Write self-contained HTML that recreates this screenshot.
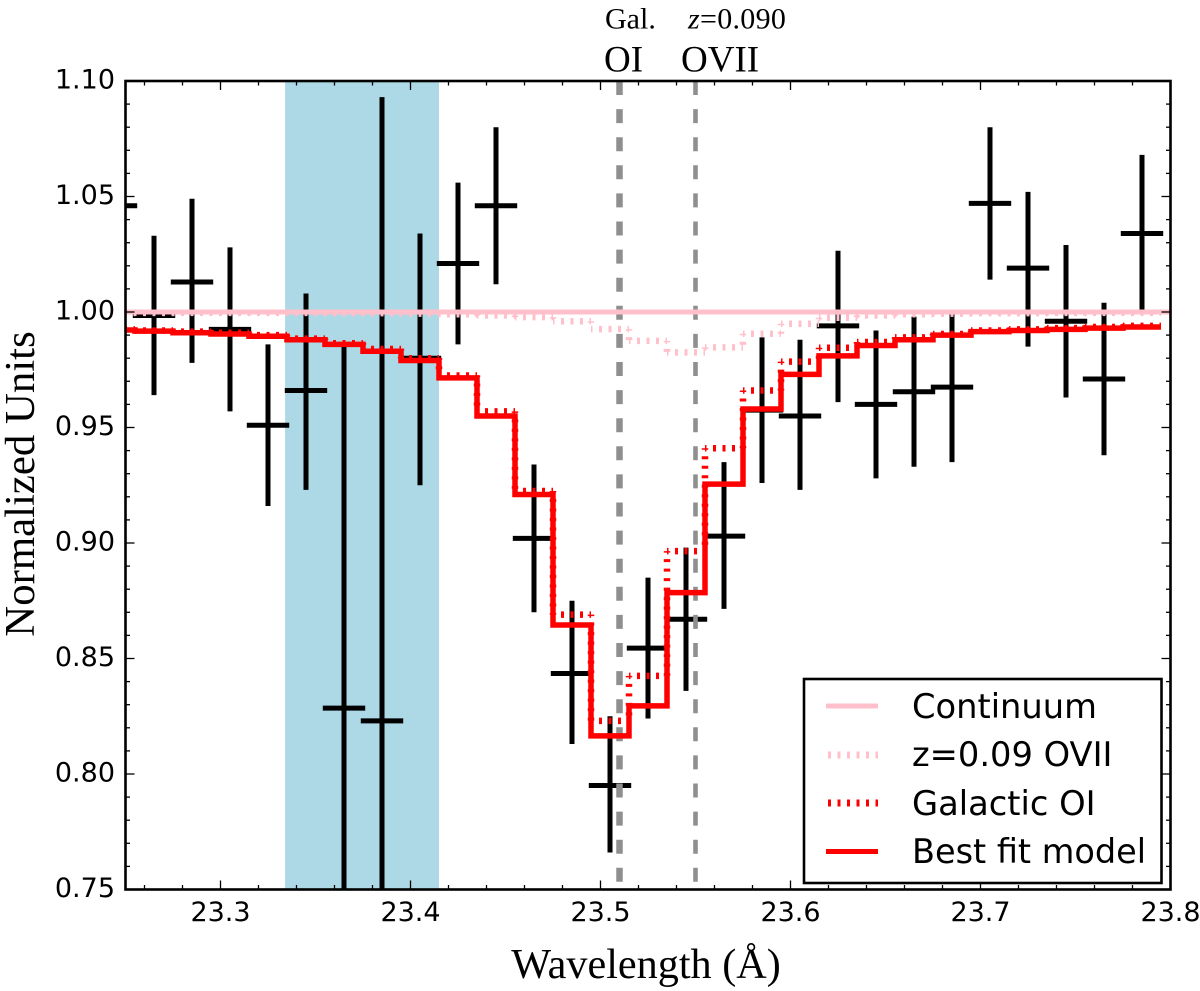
<!DOCTYPE html>
<html lang="en">
<head>
<meta charset="utf-8">
<title>Normalized spectrum near 23.5 Å</title>
<style>
html,body{margin:0;padding:0;background:#fff;width:1200px;height:991px;overflow:hidden}
svg{display:block}
.dv{font-family:"DejaVu Sans","Liberation Sans",sans-serif;fill:#000}
.sf{font-family:"Liberation Serif",serif;fill:#000}
</style>
</head>
<body>
<svg id="chart" xmlns="http://www.w3.org/2000/svg" width="1200" height="991" viewBox="0 0 1200 991">
  <defs>
    <clipPath id="plot-clip"><rect x="125.5" y="81" width="1045" height="808.5"></rect></clipPath>
  </defs>
  <rect x="0" y="0" width="1200" height="991" fill="#fff"></rect>
  <g id="plot-area" clip-path="url(#plot-clip)"></g>
  <g id="ticks"></g>
  <rect x="125.5" y="81" width="1045" height="808.5" fill="none" stroke="#000" stroke-width="2.6"></rect>
  <g id="tick-labels"></g>
  <text class="sf" x="646" y="978" font-size="42.2" text-anchor="middle">Wavelength (Å)</text>
  <text class="sf" transform="translate(34,484) rotate(-90)" font-size="42.8" text-anchor="middle">Normalized Units</text>
  <text class="sf" x="605" y="28.5" font-size="30">Gal.</text>
  <text class="sf" x="688" y="28.5" font-size="30" letter-spacing="0.3"><tspan font-style="italic">z</tspan>=0.090</text>
  <text class="sf" x="604" y="71.7" font-size="37">OI</text>
  <text class="sf" x="681" y="71.7" font-size="37">OVII</text>
  <g>
    <rect x="804" y="679" width="357.5" height="204" fill="#fff" stroke="#000" stroke-width="2.6"></rect>
    <line x1="826" x2="878" y1="706" y2="706" stroke="#ffc0cb" stroke-width="5"></line>
    <line x1="828" x2="878" y1="755" y2="755" stroke="#ffc0cb" stroke-width="7" stroke-dasharray="3 6.5"></line>
    <line x1="828" x2="878" y1="803" y2="803" stroke="#f00" stroke-width="7" stroke-dasharray="3 6.5"></line>
    <line x1="826" x2="878" y1="851.5" y2="851.5" stroke="#f00" stroke-width="5"></line>
    <text class="dv" x="912" y="718" font-size="33.7">Continuum</text>
    <text class="dv" x="912" y="766" font-size="33.7">z=0.09 OVII</text>
    <text class="dv" x="912" y="815" font-size="33.7">Galactic OI</text>
    <text class="dv" x="912" y="863" font-size="33.5">Best fit model</text>
  </g>
</svg>
<script>
// Bin centres (Å)
var binCenters = [23.245,23.265,23.285,23.305,23.325,23.345,23.365,23.385,23.405,23.425,23.445,23.465,23.485,23.505,23.525,23.545,23.565,23.585,23.605,23.625,23.645,23.665,23.685,23.705,23.725,23.745,23.765,23.785];
// Observed flux and error bounds
var fluxValues = [1.046,0.9985,1.013,0.9925,0.951,0.966,0.8285,0.823,0.98,1.021,1.046,0.902,0.8435,0.795,0.8545,0.867,0.903,0.9575,0.955,0.994,0.96,0.9655,0.9675,1.047,1.019,0.996,0.971,1.034];
var errLower = [1.011,0.964,0.978,0.957,0.916,0.923,0.67,0.55,0.925,0.986,1.012,0.87,0.813,0.766,0.824,0.836,0.8715,0.926,0.923,0.961,0.928,0.933,0.935,1.014,0.985,0.963,0.938,1.0];
var errUpper = [1.081,1.033,1.049,1.028,0.986,1.008,0.986,1.093,1.034,1.056,1.08,0.934,0.875,0.825,0.885,0.898,0.935,0.989,0.988,1.0265,0.992,0.998,0.999,1.08,1.052,1.029,1.004,1.068];
// Model curves per bin
var bestFitValues = [0.9922,0.9917,0.991,0.9905,0.9895,0.988,0.986,0.983,0.979,0.9715,0.955,0.921,0.8645,0.8165,0.8295,0.8785,0.9255,0.958,0.973,0.981,0.9855,0.988,0.99,0.9915,0.992,0.9925,0.993,0.9935];
var galacticOiValues = [0.9925,0.992,0.9915,0.991,0.99,0.9885,0.9865,0.984,0.98,0.9725,0.957,0.9225,0.869,0.823,0.8425,0.8965,0.941,0.966,0.9785,0.9845,0.987,0.989,0.9905,0.992,0.9925,0.993,0.9935,0.994];
var oviiValues = [0.9996,0.9996,0.9996,0.9996,0.9996,0.9996,0.9995,0.9995,0.9993,0.999,0.9985,0.9978,0.996,0.9926,0.9875,0.9825,0.9847,0.9906,0.9949,0.9975,0.9985,0.999,0.9993,0.9995,0.9995,0.9996,0.9996,0.9996];
var continuumLevel = [1.0];
var binWidth = [0.02];
// Shaded region and reference lines
var shadedRange = [23.334,23.415];
var referenceLines = [23.51,23.55];
// Ticks
var xMajorTicks = [23.3,23.4,23.5,23.6,23.7,23.8];
var xTickLabels = ['23.3','23.4','23.5','23.6','23.7','23.8'];
var yMajorTicks = [1.10,1.05,1.00,0.95,0.90,0.85,0.80,0.75];
var yTickLabels = ['1.10','1.05','1.00','0.95','0.90','0.85','0.80','0.75'];
var xMinorStep = [0.02];
var yMinorStep = [0.01];

var X0 = 125.5, XPX = 1900, XMIN = 23.25, XMAX = 23.8;
var YTOP = 81, YBOT = 889.5, YMIN = 0.75, YMAX = 1.10;
function xScale(v){ return X0 + (v - XMIN) * XPX; }
function yScale(v){ return YBOT - (v - YMIN) * (YBOT - YTOP) / (YMAX - YMIN); }
function yClamped(v){ return Math.min(YBOT, Math.max(YTOP, yScale(v))); }

var NS = 'http://www.w3.org/2000/svg';
function mk(tag, attrs, parent){
  var el = document.createElementNS(NS, tag);
  for (var k in attrs) el.setAttribute(k, attrs[k]);
  parent.appendChild(el);
  return el;
}
function leftEdge(centers, i){
  return Math.max(X0, xScale(centers[i] - binWidth[0] / 2));
}
function stepPath(centers, values){
  var half = binWidth[0] / 2;
  var d = '';
  for (var i = 0; i < centers.length; i++){
    var xa = leftEdge(centers, i), xb = xScale(centers[i] + half), y = yScale(values[i]);
    d += (i === 0 ? 'M' : 'L') + xa.toFixed(2) + ' ' + y.toFixed(2) + 'L' + xb.toFixed(2) + ' ' + y.toFixed(2);
  }
  return d;
}
// Each segment is its own subpath so the dot pattern restarts at every step corner
function dottedStepPath(centers, values){
  var half = binWidth[0] / 2;
  var d = '';
  for (var i = 0; i < centers.length; i++){
    var xa = xScale(centers[i] - half), xb = xScale(centers[i] + half), y = yScale(values[i]);
    d += 'M' + xa.toFixed(2) + ' ' + y.toFixed(2) + 'L' + xb.toFixed(2) + ' ' + y.toFixed(2);
    if (i < centers.length - 1){
      var yn = yScale(values[i + 1]);
      d += 'M' + xb.toFixed(2) + ' ' + Math.min(y, yn).toFixed(2) + 'L' + xb.toFixed(2) + ' ' + Math.max(y, yn).toFixed(2);
    }
  }
  return d;
}

var plot = document.getElementById('plot-area');
var ticks = document.getElementById('ticks');
var tickLabels = document.getElementById('tick-labels');

// Shaded band
var band = mk('rect', {x:xScale(shadedRange[0]), y:YTOP, width:xScale(shadedRange[1])-xScale(shadedRange[0]), height:YBOT-YTOP, fill:'#add8e6'}, plot);



// Error bars
binCenters.forEach(function(c, i){
  var half = binWidth[0] / 2;
  var group = mk('g', {stroke:'#000', 'stroke-width':5, fill:'none'}, plot);
  
  
  var hbar = mk('line', {x1:Math.max(X0, xScale(c-half)-2.2), x2:xScale(c+half)+2.2, y1:yScale(fluxValues[i]), y2:yScale(fluxValues[i])}, group);
  
  
  if (xScale(c) >= X0){
    var vbar = mk('line', {x1:xScale(c), x2:xScale(c), y1:yClamped(errLower[i]), y2:yClamped(errUpper[i])}, group);
    
    
  }
});

// Reference lines
referenceLines.forEach(function(w, i){
  var ref = mk('line', {x1:xScale(w), x2:xScale(w), y1:YTOP, y2:YBOT, stroke:'#8f8f8f', 'stroke-width':(i === 0 ? 6.5 : 4.6), 'stroke-dasharray':'14 14.1'}, plot);
  
  
});

// z=0.09 OVII dotted model
var oviiLine = mk('path', {d:dottedStepPath(binCenters, oviiValues), fill:'none', stroke:'#ffc0cb', 'stroke-width':6.5, 'stroke-dasharray':'3 6.5', 'stroke-dashoffset':1.5}, plot);



// Continuum
var contLine = mk('line', {x1:X0, x2:xScale(XMAX), y1:yScale(continuumLevel[0]), y2:yScale(continuumLevel[0]), stroke:'#ffc0cb', 'stroke-width':5}, plot);



// Galactic OI dotted model
var oiLine = mk('path', {d:dottedStepPath(binCenters, galacticOiValues), fill:'none', stroke:'#f00', 'stroke-width':6.5, 'stroke-dasharray':'3 6.5', 'stroke-dashoffset':1.5}, plot);



// Best fit
var fitLine = mk('path', {d:stepPath(binCenters, bestFitValues), fill:'none', stroke:'#f00', 'stroke-width':5.5, 'stroke-linejoin':'miter'}, plot);



// Ticks on all four edges
function xTick(w, len, name){
  var bottom = mk('line', {x1:xScale(w), x2:xScale(w), y1:YBOT, y2:YBOT-len, stroke:'#000', 'stroke-width':1.3}, ticks);
  
  
  var top = mk('line', {x1:xScale(w), x2:xScale(w), y1:YTOP, y2:YTOP+len, stroke:'#000', 'stroke-width':1.3}, ticks);
  
  
}
function yTick(v, len, name){
  var left = mk('line', {x1:X0, x2:X0+len, y1:yScale(v), y2:yScale(v), stroke:'#000', 'stroke-width':1.3}, ticks);
  
  
  var right = mk('line', {x1:xScale(XMAX), x2:xScale(XMAX)-len, y1:yScale(v), y2:yScale(v), stroke:'#000', 'stroke-width':1.3}, ticks);
  
  
}
var nx = Math.round((XMAX - 23.26) / xMinorStep[0]);
for (var ix = 0; ix <= nx; ix++){
  var wv = 23.26 + ix * xMinorStep[0];
  var isMajorX = ix % 5 === 2;
  if (!isMajorX) xTick(wv, 4.5, 'x-minor-tick');
}
var ny = Math.round((YMAX - YMIN) / yMinorStep[0]);
for (var iy = 0; iy <= ny; iy++){
  var yv = YMIN + iy * yMinorStep[0];
  if (iy % 5 !== 0) yTick(yv, 4.5, 'y-minor-tick');
}
xMajorTicks.forEach(function(w, i){
  xTick(w, 9, 'x-major-tick');
  var t = mk('text', {x:xScale(w), y:921, 'font-size':27, 'text-anchor':'middle', 'class':'dv'}, tickLabels);
  
  
  t.textContent = xTickLabels[i];
});
yMajorTicks.forEach(function(v, i){
  yTick(v, 9, 'y-major-tick');
  var t = mk('text', {x:115, y:yScale(v)+7.5, 'font-size':27, 'text-anchor':'end', 'class':'dv'}, tickLabels);
  
  
  t.textContent = yTickLabels[i];
});
</script>
</body>
</html>
